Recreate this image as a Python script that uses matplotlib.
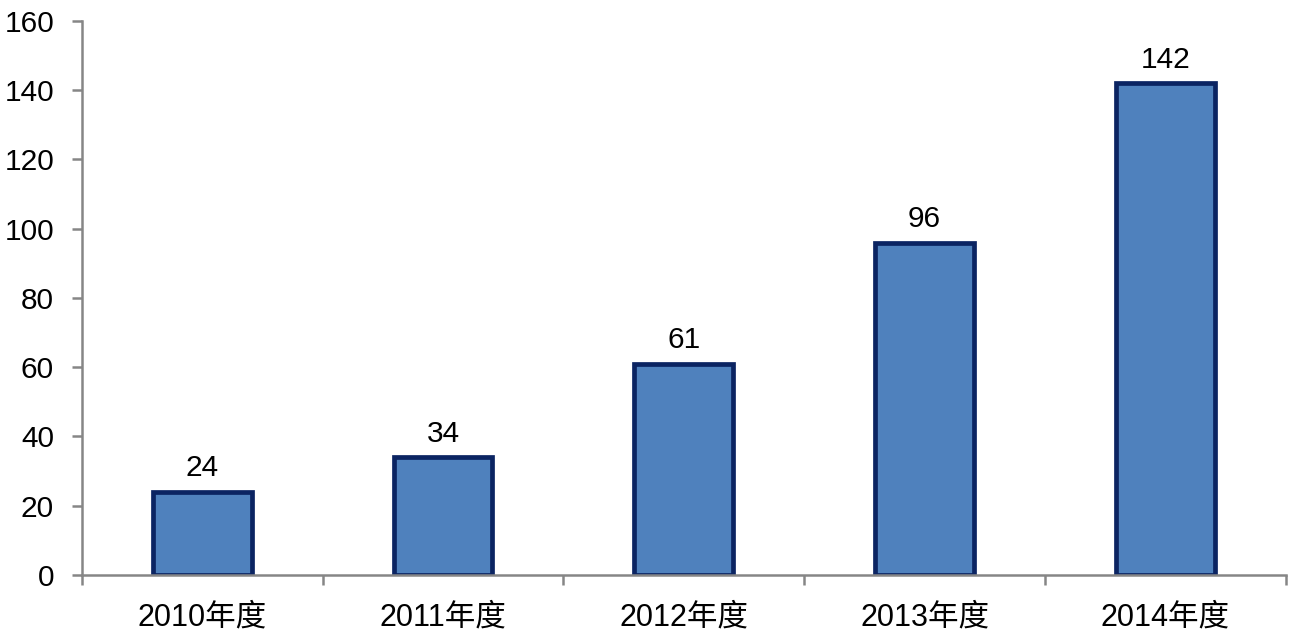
import numpy as np
import matplotlib
matplotlib.use("Agg")
import matplotlib.pyplot as plt

plt.rcParams['font.family'] = ['Liberation Sans', 'Noto Sans CJK SC', 'DejaVu Sans']

categories = ['2010年度', '2011年度', '2012年度', '2013年度', '2014年度']
values = [24, 34, 61, 96, 142]
yticks = [0, 20, 40, 60, 80, 100, 120, 140, 160]

fig = plt.figure(figsize=(13, 6.4), dpi=100)
ax = fig.add_axes([0.063, 0.1016, 0.926, 0.8656])

x = np.arange(len(categories))
ax.bar(x, values, width=0.41, color='#4F81BD', edgecolor='#0B2462', linewidth=3.4)

for xi, v in zip(x, values):
    ax.annotate(str(v), (xi, v), xytext=(0, 7), textcoords='offset points',
                ha='center', va='bottom', fontsize=21.5)

ax.set_xlim(-0.5, len(categories) - 0.5)
ax.set_ylim(0, 160)
ax.set_yticks(yticks)
ax.set_xticks(x)
ax.set_xticklabels(categories)
ax.set_xticks(np.arange(len(categories) + 1) - 0.5, minor=True)

for side in ['top', 'right']:
    ax.spines[side].set_visible(False)
for side in ['left', 'bottom']:
    ax.spines[side].set_color('#868686')
    ax.spines[side].set_linewidth(1.8)

ax.tick_params(axis='y', length=7, width=1.8, color='#868686', labelsize=21.5, pad=13)
ax.tick_params(axis='x', which='major', length=0, labelsize=22, pad=20)
ax.tick_params(axis='x', which='minor', length=7, width=1.8, color='#868686')

fig.savefig('out.png', dpi=100)
